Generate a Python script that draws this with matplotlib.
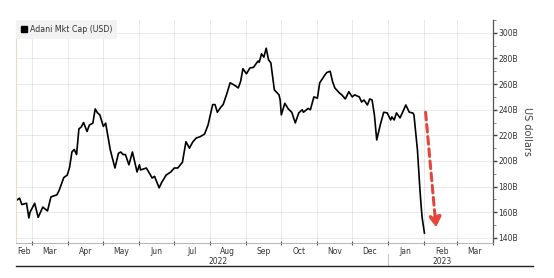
import numpy as np
import pandas as pd
import matplotlib
matplotlib.use("Agg")
import matplotlib.pyplot as plt
import matplotlib.dates as mdates
from matplotlib.patches import Patch
from matplotlib.lines import Line2D
from matplotlib.ticker import MultipleLocator, FixedLocator

# Adani group market cap, billions of USD
dates = [
    "2022-02-15", "2022-02-18", "2022-02-20", "2022-02-24", "2022-02-26", "2022-02-27",
    "2022-03-03", "2022-03-06", "2022-03-10", "2022-03-14", "2022-03-17", "2022-03-22",
    "2022-03-24", "2022-03-28", "2022-03-31", "2022-04-02", "2022-04-04", "2022-04-06",
    "2022-04-08", "2022-04-10", "2022-04-12", "2022-04-14", "2022-04-17", "2022-04-19",
    "2022-04-22", "2022-04-24", "2022-04-26", "2022-04-28", "2022-05-01", "2022-05-03",
    "2022-05-07", "2022-05-11", "2022-05-14", "2022-05-16", "2022-05-18", "2022-05-20",
    "2022-05-23", "2022-05-26", "2022-05-30", "2022-06-01", "2022-06-02", "2022-06-07",
    "2022-06-09", "2022-06-12", "2022-06-14", "2022-06-18", "2022-06-20", "2022-06-24",
    "2022-06-28", "2022-07-01", "2022-07-04", "2022-07-08", "2022-07-11", "2022-07-14",
    "2022-07-17", "2022-07-20", "2022-07-23", "2022-07-27", "2022-07-30", "2022-08-03",
    "2022-08-05", "2022-08-07", "2022-08-10", "2022-08-12", "2022-08-15", "2022-08-18",
    "2022-08-22", "2022-08-25", "2022-08-27", "2022-08-29", "2022-09-01", "2022-09-04",
    "2022-09-07", "2022-09-11", "2022-09-12", "2022-09-14", "2022-09-16", "2022-09-18",
    "2022-09-20", "2022-09-22", "2022-09-25", "2022-09-29", "2022-09-30", "2022-10-01",
    "2022-10-04", "2022-10-07", "2022-10-10", "2022-10-13", "2022-10-16", "2022-10-19",
    "2022-10-20", "2022-10-24", "2022-10-26", "2022-10-29", "2022-11-01", "2022-11-03",
    "2022-11-07", "2022-11-09", "2022-11-12", "2022-11-14", "2022-11-16", "2022-11-20",
    "2022-11-22", "2022-11-25", "2022-11-28", "2022-12-01", "2022-12-03", "2022-12-07",
    "2022-12-09", "2022-12-11", "2022-12-14", "2022-12-16", "2022-12-18", "2022-12-20",
    "2022-12-22", "2022-12-25", "2022-12-28", "2022-12-31", "2023-01-03", "2023-01-04",
    "2023-01-06", "2023-01-08", "2023-01-11", "2023-01-13", "2023-01-16", "2023-01-19",
    "2023-01-22", "2023-01-23", "2023-01-26", "2023-01-28", "2023-01-29", "2023-01-30",
    "2023-02-01",
]
mkt_cap = [
    169, 171, 166, 167, 155.5, 160,
    167, 156, 164, 161, 172, 173.5,
    177, 187, 189, 195, 207, 209,
    205, 225, 226.5, 230, 223, 228,
    229.5, 240.6, 237.5, 236, 227, 229.5,
    208.6, 194.5, 206, 207, 205, 205,
    197, 207, 191.4, 197, 193, 194.5,
    191.4, 186.7, 188, 179, 183, 189,
    191.4, 194.5, 194.5, 199, 215, 210,
    215, 218, 218.8, 221, 228, 244,
    244, 238, 242, 244, 252, 261,
    259, 257, 262, 272, 268, 272.6,
    273, 278, 277, 283.6, 281, 288,
    279, 276.5, 255.5, 251.6, 247.6, 236,
    245, 240.6, 238, 229.7, 237.5, 240,
    238, 241, 240, 250, 249, 261,
    266.5, 269, 270, 262, 257, 253,
    251.6, 248.4, 254, 250, 251.6, 250,
    246, 247.6, 243.7, 248.4, 247.6, 236,
    216.4, 228, 238, 237.5, 232, 234.4,
    232, 237.5, 233.6, 237.5, 243.7, 238,
    237.5, 236, 208.6, 179.7, 167, 156,
    143.75,
]

y_ticks = [140, 160, 180, 200, 220, 240, 260, 280, 300]
month_starts = pd.date_range("2022-03-01", "2023-04-01", freq="MS")
month_label_dates = ["2022-02-22"] + [d.strftime("%Y-%m-16") for d in month_starts[:-1]]
month_labels = ["Feb"] + [d.strftime("%b") for d in month_starts[:-1]]
arrow_start = ("2023-02-02", 238)
arrow_end = ("2023-02-11", 148)

x = pd.to_datetime(dates)

fig = plt.figure(figsize=(5.54, 2.78), dpi=100)
ax = fig.add_axes([0.029, 0.126, 0.861, 0.802])

ax.plot(x, mkt_cap, color="black", linewidth=1.2, solid_joinstyle="round")

ax.set_xlim(pd.Timestamp("2022-02-15"), pd.Timestamp("2023-04-01"))
ax.set_ylim(136, 310)

# y axis on the right
ax.yaxis.tick_right()
ax.yaxis.set_label_position("right")
ax.set_yticks(y_ticks)
ax.set_yticklabels([f"{v}B" for v in y_ticks])
ax.yaxis.set_minor_locator(MultipleLocator(10))
ax.tick_params(axis="y", which="major", length=3, width=1, color="#444444",
               labelsize=5.5, labelcolor="#333333", pad=1)
ax.tick_params(axis="y", which="minor", length=2, width=0.6, color="#777777")
ax.set_ylabel("US dollars", rotation=-90, labelpad=10, fontsize=7, color="#444444")

# x axis: ticks at month starts, labels mid-month
ax.xaxis.set_major_locator(FixedLocator(mdates.date2num(month_starts)))
ax.xaxis.set_major_formatter(plt.NullFormatter())
ax.xaxis.set_minor_locator(FixedLocator(mdates.date2num(pd.to_datetime(month_label_dates))))
ax.xaxis.set_minor_formatter(plt.FixedFormatter(month_labels))
ax.tick_params(axis="x", which="major", length=3, width=0.8, color="#555555", direction="inout")
ax.tick_params(axis="x", which="minor", length=0, labelsize=5.5, labelcolor="#333333", pad=3)

ax.grid(True, which="major", color="#cccccc", linestyle=(0, (1.2, 1.2)), linewidth=0.6)

ax.spines["top"].set_visible(False)
ax.spines["left"].set_color("#e6dccb")
ax.spines["left"].set_linewidth(0.8)
ax.spines["right"].set_color("#555555")
ax.spines["right"].set_linewidth(0.9)
ax.spines["bottom"].set_color("#aaaaaa")
ax.spines["bottom"].set_linewidth(0.6)

# year labels under the months
trans = ax.get_xaxis_transform()
ax.text(pd.Timestamp("2022-08-08"), -0.083, "2022", transform=trans,
        ha="center", va="center", fontsize=5.5, color="#333333")
ax.text(pd.Timestamp("2023-02-16"), -0.083, "2023", transform=trans,
        ha="center", va="center", fontsize=5.5, color="#333333")
ax.plot([pd.Timestamp("2023-01-01")] * 2, [-0.05, -0.105], transform=trans,
        color="#bbbbbb", linewidth=0.6, clip_on=False)

# legend box
handle = Patch(facecolor="black", edgecolor="black")
leg = ax.legend([handle], ["Adani Mkt Cap (USD)"], loc="upper left",
                bbox_to_anchor=(0, 1), borderaxespad=0, fontsize=5.7,
                handlelength=0.8, handleheight=0.8, handletextpad=0.3,
                borderpad=0.6, frameon=True, fancybox=False)
leg.get_frame().set_facecolor("#f2f2f2")
leg.get_frame().set_edgecolor("none")
leg.get_frame().set_alpha(1)
for t in leg.get_texts():
    t.set_color("#333333")

# red dashed arrow pointing at the crash
ax.annotate("", xy=(pd.Timestamp(arrow_end[0]), arrow_end[1]),
            xytext=(pd.Timestamp(arrow_start[0]), arrow_start[1]),
            arrowprops=dict(arrowstyle="-|>,head_length=0.6,head_width=0.35",
                            color="#e5463c", linewidth=2.2, linestyle=(0, (2.5, 1.5)),
                            shrinkA=0, shrinkB=0))

# bottom rule of the chart
fig.add_artist(Line2D([0.029, 0.962], [0.043, 0.043], color="#222222", linewidth=1.0))

fig.savefig("out.png", dpi=100, facecolor="white")
